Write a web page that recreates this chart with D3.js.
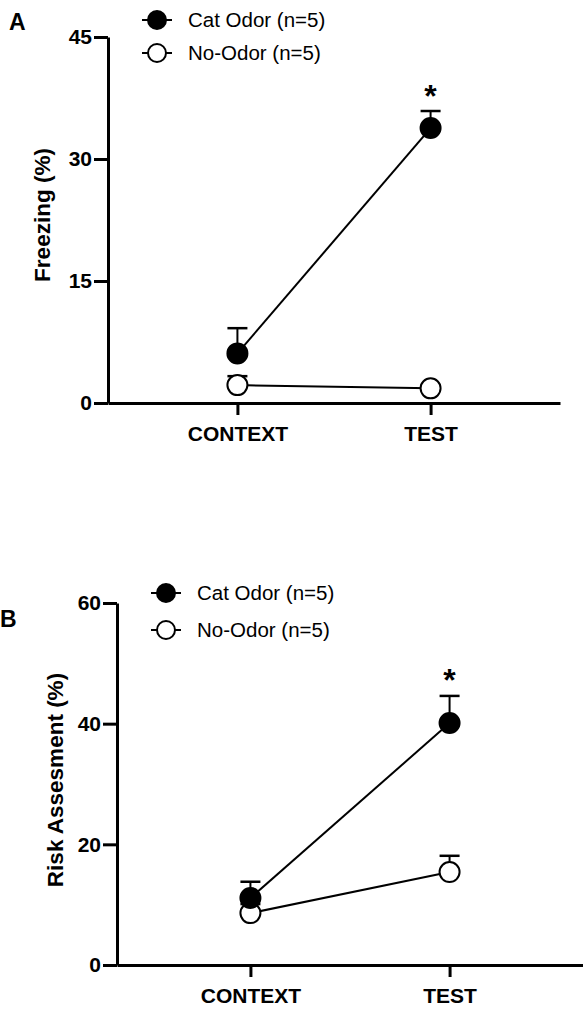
<!DOCTYPE html>
<html>
<head>
<meta charset="utf-8">
<script src="https://cdn.jsdelivr.net/npm/d3@7"></script>
<style>
  html, body { margin: 0; padding: 0; background: #fff; }
  svg { display: block; font-family: "Liberation Sans", Arial, Helvetica, sans-serif; }
</style>
</head>
<body>
<svg id="chart" width="583" height="1010"></svg>
<script>
// data
var groups = ["CONTEXT", "TEST"];
var seriesNames = ["Cat Odor (n=5)", "No-Odor (n=5)"];

var freezeCat = [6.1, 33.8];
var freezeCatErr = [3.1, 2.1];
var freezeNo = [2.2, 1.8];
var freezeNoErr = [1.1, 0.4];
var freezeTicks = [0, 15, 30, 45];

var riskCat = [11.1, 40.1];
var riskCatErr = [2.7, 4.5];
var riskNo = [8.6, 15.4];
var riskNoErr = [1.5, 2.7];
var riskTicks = [0, 20, 40, 60];

var sigGroups = ["TEST"];

var svg = d3.select("#chart");

function drawPanel(p) {
  var g = svg.append("g");

  var x = d3.scalePoint().domain(groups).range([p.left, p.right]).padding(0.67);
  var y = d3.scaleLinear().domain([0, p.ticks[p.ticks.length - 1]]).range([p.bottom, p.top]);

  // y axis
  var ya = g.append("g")
    .attr("transform", "translate(" + p.left + ",0)")
    .call(d3.axisLeft(y).tickValues(p.ticks).tickSize(14).tickSizeOuter(0).tickPadding(2));
  ya.select(".domain").attr("stroke", "#000").attr("stroke-width", 3);
  ya.selectAll(".tick line").attr("stroke", "#000").attr("stroke-width", 3);
  ya.selectAll(".tick text")
    .attr("fill", "#000")
    .style("font-size", "21px")
    .style("font-weight", "bold")
    .style("font-family", "Liberation Sans, Arial, sans-serif");

  // x axis
  var xa = g.append("g")
    .attr("transform", "translate(0," + p.bottom + ")")
    .call(d3.axisBottom(x).tickSize(12).tickSizeOuter(0).tickPadding(6));
  xa.select(".domain").attr("stroke", "#000").attr("stroke-width", 3);
  xa.selectAll(".tick line").attr("stroke", "#000").attr("stroke-width", 3);
  xa.selectAll(".tick text")
    .attr("fill", "#000")
    .attr("dy", "0.95em")
    .style("font-size", "21px")
    .style("font-weight", "bold")
    .style("font-family", "Liberation Sans, Arial, sans-serif");

  // y title
  g.append("text")
    .attr("transform", "translate(" + p.titleX + "," + ((p.top + p.bottom) / 2 + p.titleShift) + ") rotate(-90)")
    .attr("text-anchor", "middle")
    .style("font-size", "22.5px")
    .style("font-weight", "bold")
    .text(p.title);

  // panel letter
  g.append("text")
    .attr("x", p.letterX)
    .attr("y", p.letterY)
    .style("font-size", "23px")
    .style("font-weight", "bold")
    .text(p.letter);

  // series: No-Odor first so the filled markers sit on top
  var series = [
    { name: seriesNames[1], vals: p.no, errs: p.noErr, fill: "#fff" },
    { name: seriesNames[0], vals: p.cat, errs: p.catErr, fill: "#000" }
  ];

  var line = d3.line()
    .x(function(d, i) { return x(groups[i]); })
    .y(function(d) { return y(d); });

  series.forEach(function(s) {
    // error bars (upper only)
    s.vals.forEach(function(v, i) {
      var cx = x(groups[i]);
      g.append("line")
        .attr("x1", cx).attr("x2", cx)
        .attr("y1", y(v)).attr("y2", y(v + s.errs[i]))
        .attr("stroke", "#000").attr("stroke-width", 2);
      g.append("line")
        .attr("x1", cx - 10).attr("x2", cx + 10)
        .attr("y1", y(v + s.errs[i])).attr("y2", y(v + s.errs[i]))
        .attr("stroke", "#000").attr("stroke-width", 2.5);
    });
    g.append("path")
      .datum(s.vals)
      .attr("d", line)
      .attr("fill", "none")
      .attr("stroke", "#000")
      .attr("stroke-width", 2);
  });

  series.forEach(function(s) {
    g.selectAll(null)
      .data(s.vals)
      .enter()
      .append("circle")
      .attr("cx", function(d, i) { return x(groups[i]); })
      .attr("cy", function(d) { return y(d); })
      .attr("r", 10)
      .attr("fill", s.fill)
      .attr("stroke", "#000")
      .attr("stroke-width", 2);
  });

  // significance star above the cat odor error bar
  sigGroups.forEach(function(gr) {
    var i = groups.indexOf(gr);
    g.append("text")
      .attr("x", x(gr))
      .attr("y", y(p.cat[i] + p.catErr[i]) - p.starGap)
      .attr("text-anchor", "middle")
      .style("font-size", "32px")
      .style("font-weight", "bold")
      .text("*");
  });

  // legend
  var leg = g.append("g");
  [{ name: seriesNames[0], fill: "#000" }, { name: seriesNames[1], fill: "#fff" }].forEach(function(d, k) {
    var ly = p.legY + k * p.legStep;
    leg.append("line")
      .attr("x1", p.legX - 15).attr("x2", p.legX + 15)
      .attr("y1", ly).attr("y2", ly)
      .attr("stroke", "#000").attr("stroke-width", 2);
    leg.append("circle")
      .attr("cx", p.legX).attr("cy", ly).attr("r", 9)
      .attr("fill", d.fill).attr("stroke", "#000").attr("stroke-width", 2);
    leg.append("text")
      .attr("x", p.legX + 31)
      .attr("y", ly)
      .attr("dy", "0.35em")
      .style("font-size", "20.5px")
      .text(d.name);
  });
}

drawPanel({
  left: 108, right: 560, top: 37, bottom: 403,
  ticks: freezeTicks, cat: freezeCat, catErr: freezeCatErr, no: freezeNo, noErr: freezeNoErr,
  title: "Freezing (%)", titleX: 50, titleShift: -5,
  letter: "A", letterX: 9, letterY: 30,
  legX: 157, legY: 20, legStep: 33,
  starGap: 4
});

drawPanel({
  left: 117, right: 583, top: 603, bottom: 965,
  ticks: riskTicks, cat: riskCat, catErr: riskCatErr, no: riskNo, noErr: riskNoErr,
  title: "Risk Assesment (%)", titleX: 63, titleShift: -4,
  letter: "B", letterX: 0, letterY: 627,
  legX: 166, legY: 593, legStep: 37,
  starGap: 5
});
</script>
</body>
</html>
